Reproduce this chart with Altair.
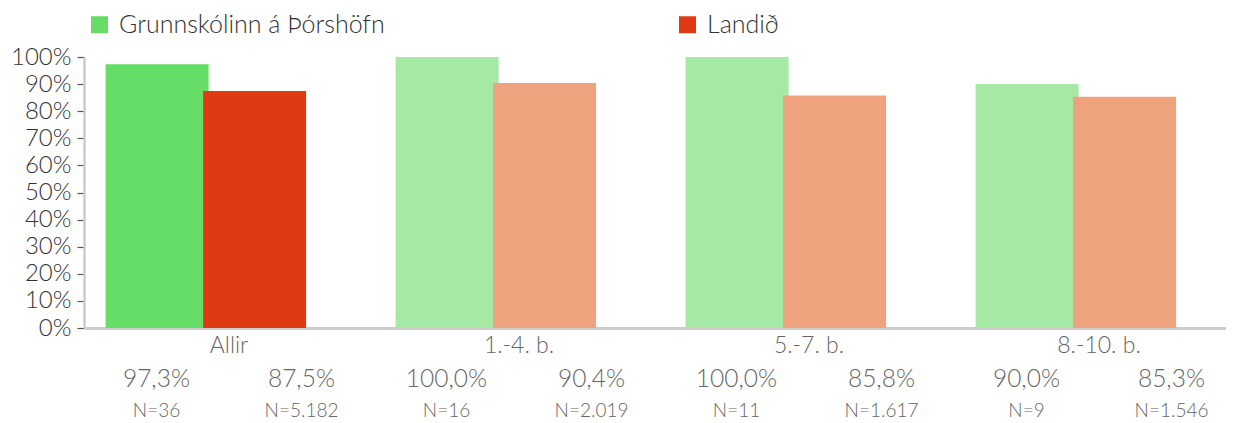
import altair as alt
import pandas as pd

categories = ["Allir", "1.-4. b.", "5.-7. b.", "8.-10. b."]
series_names = ["Grunnskólinn á Þórshöfn", "Landið"]
school_values = [97.3, 100.0, 100.0, 90.0]
national_values = [87.5, 90.4, 85.8, 85.3]
school_n = [36, 16, 11, 9]
national_n = [5182, 2019, 1617, 1546]
y_ticks = [0, 10, 20, 30, 40, 50, 60, 70, 80, 90, 100]

color_keys = [
    "Grunnskólinn á Þórshöfn",
    "Landið",
    "Grunnskólinn á Þórshöfn (ljós)",
    "Landið (ljós)",
]
color_values = ["#66DD66", "#DF3A13", "#A5E9A5", "#EFA27E"]


def fmt_pct(v):
    return f"{v:.1f}".replace(".", ",") + "%"


def fmt_n(n):
    return "N=" + f"{n:,}".replace(",", ".")


rows = []
for i, cat in enumerate(categories):
    for s, vals, ns in (
        (series_names[0], school_values, school_n),
        (series_names[1], national_values, national_n),
    ):
        key = s if i == 0 else s + " (ljós)"
        rows.append(
            dict(
                category=cat,
                series=s,
                value=vals[i],
                key=key,
                pct_label=fmt_pct(vals[i]),
                n_label=fmt_n(ns[i]),
            )
        )
df = pd.DataFrame(rows)

FONT = "Lato"
base = alt.Chart(df)

x_scale = alt.Scale(range=[0, 1160], paddingInner=0, paddingOuter=0)
x_axis = alt.Axis(
    title=None,
    labelAngle=0,
    ticks=False,
    domainColor="#cccccc",
    domainWidth=3,
    labelFontSize=23,
    labelColor="#666666",
    labelFontWeight=300,
    labelPadding=6,
)
y_scale = alt.Scale(domain=[0, 100], nice=False)
y_axis = alt.Axis(
    title=None,
    values=y_ticks,
    labelExpr="datum.value + '%'",
    labelOverlap=False,
    grid=False,
    domainColor="#cccccc",
    domainWidth=2.5,
    tickColor="#555555",
    tickWidth=1.2,
    tickSize=7,
    labelFontSize=24,
    labelColor="#333333",
    labelFontWeight=300,
    labelPadding=6,
)

x_enc = alt.X("category:N", sort=categories, scale=x_scale, axis=x_axis)

bars = base.mark_bar(width=alt.RelativeBandSize(1.056)).encode(
    x=x_enc,
    xOffset=alt.XOffset(
        "series:N",
        sort=series_names,
        scale=alt.Scale(paddingInner=0, paddingOuter=0.487, align=0.313),
    ),
    y=alt.Y("value:Q", scale=y_scale, axis=y_axis),
    color=alt.Color(
        "key:N",
        scale=alt.Scale(domain=color_keys, range=color_values),
        legend=alt.Legend(
            title=None,
            orient="none",
            legendX=3,
            legendY=-45,
            direction="horizontal",
            columns=2,
            columnPadding=290,
            symbolType="square",
            symbolSize=289,
            symbolStrokeWidth=0,
            labelFontSize=25,
            labelColor="#333333",
            labelFontWeight=300,
            labelOffset=7,
            labelLimit=0,
            padding=0,
            values=series_names,
        ),
    ),
)

pct_text = base.mark_text(
    baseline="middle", dy=52, fontSize=24.5, color="#666666", fontWeight=300
).encode(
    x=x_enc,
    xOffset=alt.XOffset("series:N", sort=series_names),
    y=alt.Y(datum=0, type="quantitative", scale=y_scale, axis=y_axis),
    text="pct_label:N",
)

n_text = base.mark_text(
    baseline="middle", dy=83, fontSize=19, color="#666666", fontWeight=300
).encode(
    x=x_enc,
    xOffset=alt.XOffset("series:N", sort=series_names),
    y=alt.Y(datum=0, type="quantitative", scale=y_scale, axis=y_axis),
    text="n_label:N",
)

chart = (
    alt.layer(bars, pct_text, n_text)
    .resolve_scale(xOffset="independent")
    .properties(
        width=1142,
        height=271,
        autosize=alt.AutoSizeParams(type="none"),
        padding={"left": 76, "top": 49, "right": 0, "bottom": 95},
    )
    .configure(font=FONT)
    .configure_view(stroke=None)
)

chart.save("out.html", embed_options={"renderer": "svg", "actions": False})
